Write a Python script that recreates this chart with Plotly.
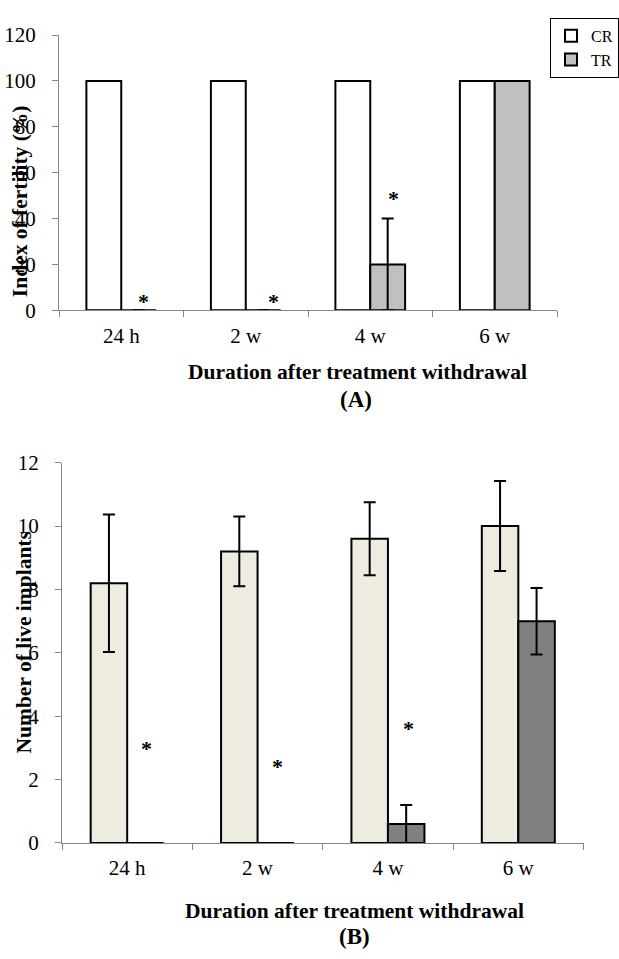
import plotly.graph_objects as go

# ---- data ----
categories = ["24 h", "2 w", "4 w", "6 w"]

# Panel A: index of fertility (%)
fert_cr = [100, 100, 100, 100]
fert_tr = [0, 0, 20, 100]
fert_tr_err = [0, 0, 20, 0]
fert_star_cats = ["24 h", "2 w", "4 w"]
fert_star_y = [6, 6, 51]

# Panel B: number of live implants
impl_cr = [8.2, 9.2, 9.6, 10.0]
impl_cr_err = [2.17, 1.1, 1.15, 1.42]
impl_tr = [0, 0, 0.6, 7.0]
impl_tr_err = [0, 0, 0.6, 1.05]
impl_star_cats = ["24 h", "2 w", "4 w"]
impl_star_y = [3.13, 2.58, 3.78]

W, H = 619, 959
FONT = "Liberation Serif"

def px_x(p):
    return p / W

def px_y(p):
    return 1 - p / H

fig = go.Figure()

err_style = dict(type="data", visible=True, color="black", thickness=2, width=6)

fig.add_trace(go.Bar(
    x=categories, y=fert_cr, name="CR", xaxis="x", yaxis="y",
    marker=dict(color="white", line=dict(color="black", width=2)),
    showlegend=True,
))
fig.add_trace(go.Bar(
    x=categories, y=fert_tr, name="TR", xaxis="x", yaxis="y",
    marker=dict(color="#C0C0C0", line=dict(color="black", width=2)),
    error_y=dict(array=fert_tr_err, **err_style),
    showlegend=True,
))
fig.add_trace(go.Bar(
    x=categories, y=impl_cr, name="CR", xaxis="x2", yaxis="y2",
    marker=dict(color="#EEECE1", line=dict(color="black", width=2)),
    error_y=dict(array=impl_cr_err, **err_style),
    showlegend=False,
))
fig.add_trace(go.Bar(
    x=categories, y=impl_tr, name="TR", xaxis="x2", yaxis="y2",
    marker=dict(color="#808080", line=dict(color="black", width=2)),
    error_y=dict(array=impl_tr_err, **err_style),
    showlegend=False,
))

axis_common = dict(
    showline=True, linecolor="#868686", linewidth=1,
    showgrid=False, zeroline=False,
    ticks="outside", ticklen=6, tickcolor="#868686", tickwidth=1,
    tickfont=dict(family=FONT, size=21, color="black"),
)

fig.update_layout(
    width=W, height=H,
    margin=dict(l=0, r=0, t=0, b=0),
    paper_bgcolor="white", plot_bgcolor="white",
    barmode="group", bargap=0.44, bargroupgap=0,
    font=dict(family=FONT, color="black"),
    xaxis=dict(domain=[px_x(59), px_x(557)], anchor="y",
               tickson="boundaries", ticklabelstandoff=6, **axis_common),
    yaxis=dict(domain=[px_y(306), px_y(23.6)], anchor="x",
               range=[0, 120], dtick=20, ticklabelstandoff=12, **axis_common),
    xaxis2=dict(domain=[px_x(62), px_x(583.5)], anchor="y2",
                tickson="boundaries", ticklabelstandoff=6, **axis_common),
    yaxis2=dict(domain=[px_y(852.3), px_y(462.3)], anchor="x2",
                range=[0, 12], dtick=2, ticklabelstandoff=12, **axis_common),
    legend=dict(
        x=px_x(550), y=px_y(6), xanchor="left", yanchor="top",
        bordercolor="black", borderwidth=1, bgcolor="white",
        font=dict(family=FONT, size=16, color="black"),
        itemwidth=30, tracegroupgap=0,
    ),
)

annotations = []
star_font = dict(family=FONT, size=22, color="black")
star_shift_a = [22, 28, 23]
for c, yv, xs in zip(fert_star_cats, fert_star_y, star_shift_a):
    annotations.append(dict(x=c, y=yv, xref="x", yref="y", text="<b>*</b>",
                            showarrow=False, xshift=xs, yshift=-5,
                            xanchor="center", yanchor="middle", font=star_font))
star_shift_b = [19, 20, 21]
for c, yv, xs in zip(impl_star_cats, impl_star_y, star_shift_b):
    annotations.append(dict(x=c, y=yv, xref="x2", yref="y2", text="<b>*</b>",
                            showarrow=False, xshift=xs, yshift=-5,
                            xanchor="center", yanchor="middle", font=star_font))

bold = dict(family=FONT, size=21.5, color="black")
def paper_text(xp, yp, text, font, angle=0):
    return dict(x=px_x(xp), y=px_y(yp), xref="paper", yref="paper",
                xanchor="center", yanchor="middle", textangle=angle,
                text=text, showarrow=False, font=font)

annotations += [
    paper_text(20, 194, "<b>Index of fertility (%)</b>", bold, -90),
    paper_text(23.7, 647, "<b>Number of live implants</b>", bold, -90),
    paper_text(357, 369, "<b>Duration after treatment withdrawal</b>", bold),
    paper_text(356, 397, "<b>(A)</b>", dict(family=FONT, size=23, color="black")),
    paper_text(354, 921.7, "<b>Duration after treatment withdrawal</b>", bold),
    paper_text(354, 948, "<b>(B)</b>", dict(family=FONT, size=23, color="black")),
]
fig.update_layout(annotations=annotations)

fig.write_html("out.html")
